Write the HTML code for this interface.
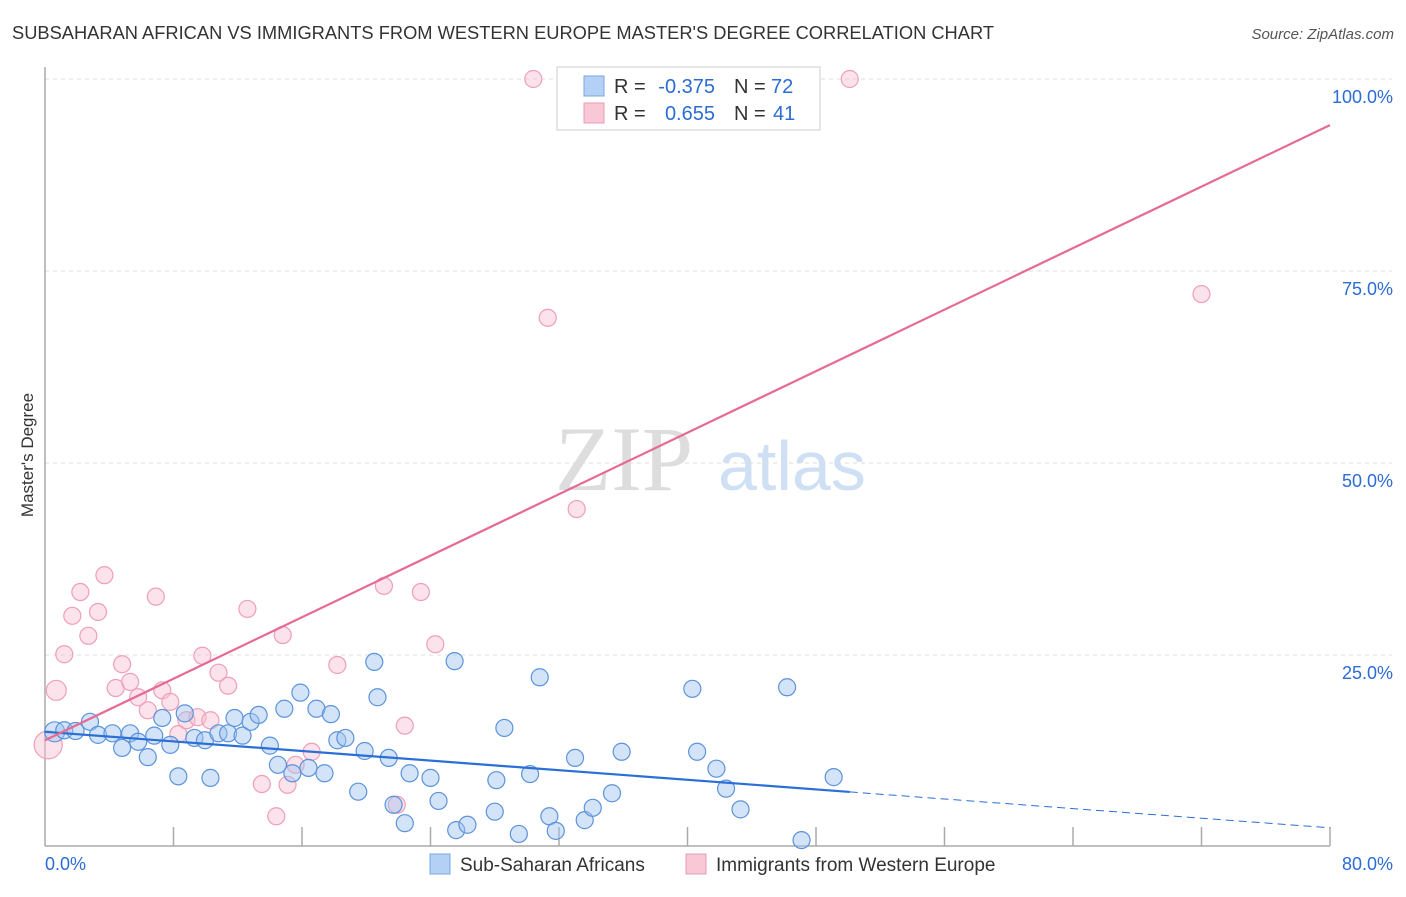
<!DOCTYPE html>
<html><head><meta charset="utf-8"><style>
body{margin:0;background:#fff;font-family:"Liberation Sans",sans-serif;}
svg text{font-family:"Liberation Sans",sans-serif;}
</style></head><body>
<svg id="chart" width="1406" height="892" xmlns="http://www.w3.org/2000/svg">
<text x="12" y="39" font-size="18.3" fill="#333">SUBSAHARAN AFRICAN VS IMMIGRANTS FROM WESTERN EUROPE MASTER'S DEGREE CORRELATION CHART</text>
<text x="1394" y="39" font-size="15" fill="#555" text-anchor="end" font-style="italic">Source: ZipAtlas.com</text>
<text x="555" y="490" font-size="92" fill="#ddd" style="font-family:'Liberation Serif',serif">ZIP</text>
<text x="718" y="490" font-size="70" fill="#cfe0f5">atlas</text>
<g id="grid"></g>
<g id="axes"></g>
<g id="pts"></g>
<g id="lines"></g>
<text transform="translate(33,455) rotate(-90)" font-size="17" fill="#333" text-anchor="middle">Master's Degree</text>
<g>
<rect x="557" y="67" width="263" height="63" fill="#fff" stroke="#ccc"/>
<rect x="584" y="76" width="20" height="20" fill="#b5d0f5" stroke="#7aa7e0"/>
<rect x="584" y="103" width="20" height="20" fill="#f9c8d6" stroke="#eb9ab3"/>
<text x="614" y="93" font-size="20" fill="#333">R =</text>
<text x="715" y="93" font-size="20" fill="#2b6cd4" text-anchor="end">-0.375</text>
<text x="734" y="93" font-size="20" fill="#333">N =</text>
<text x="771" y="93" font-size="20" fill="#2b6cd4">72</text>
<text x="614" y="120" font-size="20" fill="#333">R =</text>
<text x="715" y="120" font-size="20" fill="#2b6cd4" text-anchor="end">0.655</text>
<text x="734" y="120" font-size="20" fill="#333">N =</text>
<text x="773" y="120" font-size="20" fill="#2b6cd4">41</text>
</g>
<g>
<rect x="430" y="854" width="20" height="20" fill="#b5d0f5" stroke="#7aa7e0"/>
<text x="460" y="871" font-size="19" fill="#333">Sub-Saharan Africans</text>
<rect x="686" y="854" width="20" height="20" fill="#f9c8d6" stroke="#eb9ab3"/>
<text x="716" y="871" font-size="19" fill="#333">Immigrants from Western Europe</text>
</g>
</svg>
<script>
const yTicks=[25,50,75,100];
const yTickLabels=["25.0%","50.0%","75.0%","100.0%"];
const xTickLabels=["0.0%","80.0%"];
const blueX=[0.6,1.2,1.9,2.8,3.3,4.2,4.8,5.3,5.8,6.4,6.8,7.3,7.8,8.3,8.7,9.3,9.96,10.3,10.8,11.4,11.8,12.3,12.8,13.3,14.0,14.5,14.9,15.4,15.9,16.4,16.9,17.4,17.8,18.2,18.7,19.5,19.9,20.5,20.7,21.4,21.7,22.4,22.7,24.0,24.5,25.5,25.6,26.3,28.0,28.1,28.6,29.5,30.2,30.8,31.4,31.8,33.0,33.6,34.1,35.3,35.9,40.3,40.6,41.8,42.4,43.3,46.2,47.1,49.1];
const blueY=[15.0,15.2,15.1,16.3,14.6,14.8,12.9,14.8,13.7,11.7,14.5,16.8,13.3,9.2,17.4,14.2,13.9,9.0,14.8,14.8,16.8,14.5,16.3,17.2,13.2,10.7,18.0,9.6,20.1,10.3,18.0,9.6,17.3,13.9,14.2,7.2,12.5,24.1,19.5,11.6,5.5,3.1,9.6,9.0,6.0,24.2,2.2,2.9,4.6,8.7,15.5,1.7,9.5,22.1,4.0,2.1,11.6,3.5,5.1,7.0,12.4,20.6,12.4,10.2,7.6,4.9,20.8,0.9,9.1];
const pinkX=[0.2,0.7,1.2,1.7,2.2,2.7,3.3,3.7,4.4,4.8,5.3,5.8,6.4,6.9,7.3,7.8,8.3,8.8,9.5,9.8,10.3,10.8,11.4,12.6,13.5,14.4,14.8,15.1,15.6,16.6,18.2,21.1,21.9,22.4,23.4,24.3,30.4,31.3,33.1,50.1,72.0];
const pinkY=[13.3,20.4,25.1,30.1,33.2,27.5,30.6,35.4,20.7,23.8,21.5,19.5,17.8,32.6,20.4,18.9,14.7,16.5,16.9,24.9,16.5,22.7,21.0,31.0,8.2,4.0,27.6,8.1,10.7,12.4,23.7,34.0,5.5,15.8,33.2,26.4,100,68.9,44.0,100,72.0];
const blueFit=[15.0,2.5], pinkFit=[13.9,94.0];
const X=v=>45+v/80*1285, Y=v=>847-v/100*768;
const NS="http://www.w3.org/2000/svg";
function mk(t,a,p){const e=document.createElementNS(NS,t);for(const k in a)e.setAttribute(k,a[k]);document.getElementById(p).appendChild(e);return e;}
yTicks.forEach((t,i)=>{
 const l=mk('line',{x1:45,x2:1392,y1:Y(t),y2:Y(t),stroke:'#ddd','stroke-dasharray':'4,4'},'grid');
 
 
 const tx=mk('text',{x:1393,y:Y(t)+24,'font-size':18,fill:'#2b6cd4','text-anchor':'end'},'grid');
 tx.textContent=yTickLabels[i];
 
 
});
let a=mk('line',{x1:45,x2:45,y1:67,y2:846,stroke:'#aaa','stroke-width':1.5},'axes');

a=mk('line',{x1:45,x2:1330,y1:846,y2:846,stroke:'#aaa','stroke-width':1.5},'axes');

for(let i=1;i<=10;i++){const t=mk('line',{x1:X(i*8),x2:X(i*8),y1:827,y2:846,stroke:'#aaa','stroke-width':1.5},'axes');
 }
[[0,'start',45],[80,'end',1393]].forEach((d,i)=>{const t=mk('text',{x:d[2],y:870,'font-size':18,fill:'#2b6cd4','text-anchor':d[1]},'axes');t.textContent=xTickLabels[i];
 });
pinkX.forEach((x,i)=>{const c=mk('circle',{cx:X(x),cy:Y(pinkY[i]),r:i==0?14:(i==1?10:8.5),fill:'rgba(249,190,208,0.45)',stroke:'#ef9fb8','stroke-width':1.2},'pts');
 });
blueX.forEach((x,i)=>{const c=mk('circle',{cx:X(x),cy:Y(blueY[i]),r:i==0?10:8.5,fill:'rgba(160,196,240,0.45)',stroke:'#5b93dc','stroke-width':1.2},'pts');
 });
const bAt=x=>blueFit[0]+(blueFit[1]-blueFit[0])*x/80;
let L=mk('line',{x1:X(0),y1:Y(bAt(0)),x2:X(50.1),y2:Y(bAt(50.1)),stroke:'#2a6fd6','stroke-width':2.2},'lines');

L=mk('line',{x1:X(50.1),y1:Y(bAt(50.1)),x2:X(80),y2:Y(bAt(80)),stroke:'#2a6fd6','stroke-width':1,'stroke-dasharray':'8,5'},'lines');

L=mk('line',{x1:X(0),y1:Y(pinkFit[0]),x2:X(80),y2:Y(pinkFit[1]),stroke:'#e66a93','stroke-width':2.2},'lines');

</script>
</body></html>
